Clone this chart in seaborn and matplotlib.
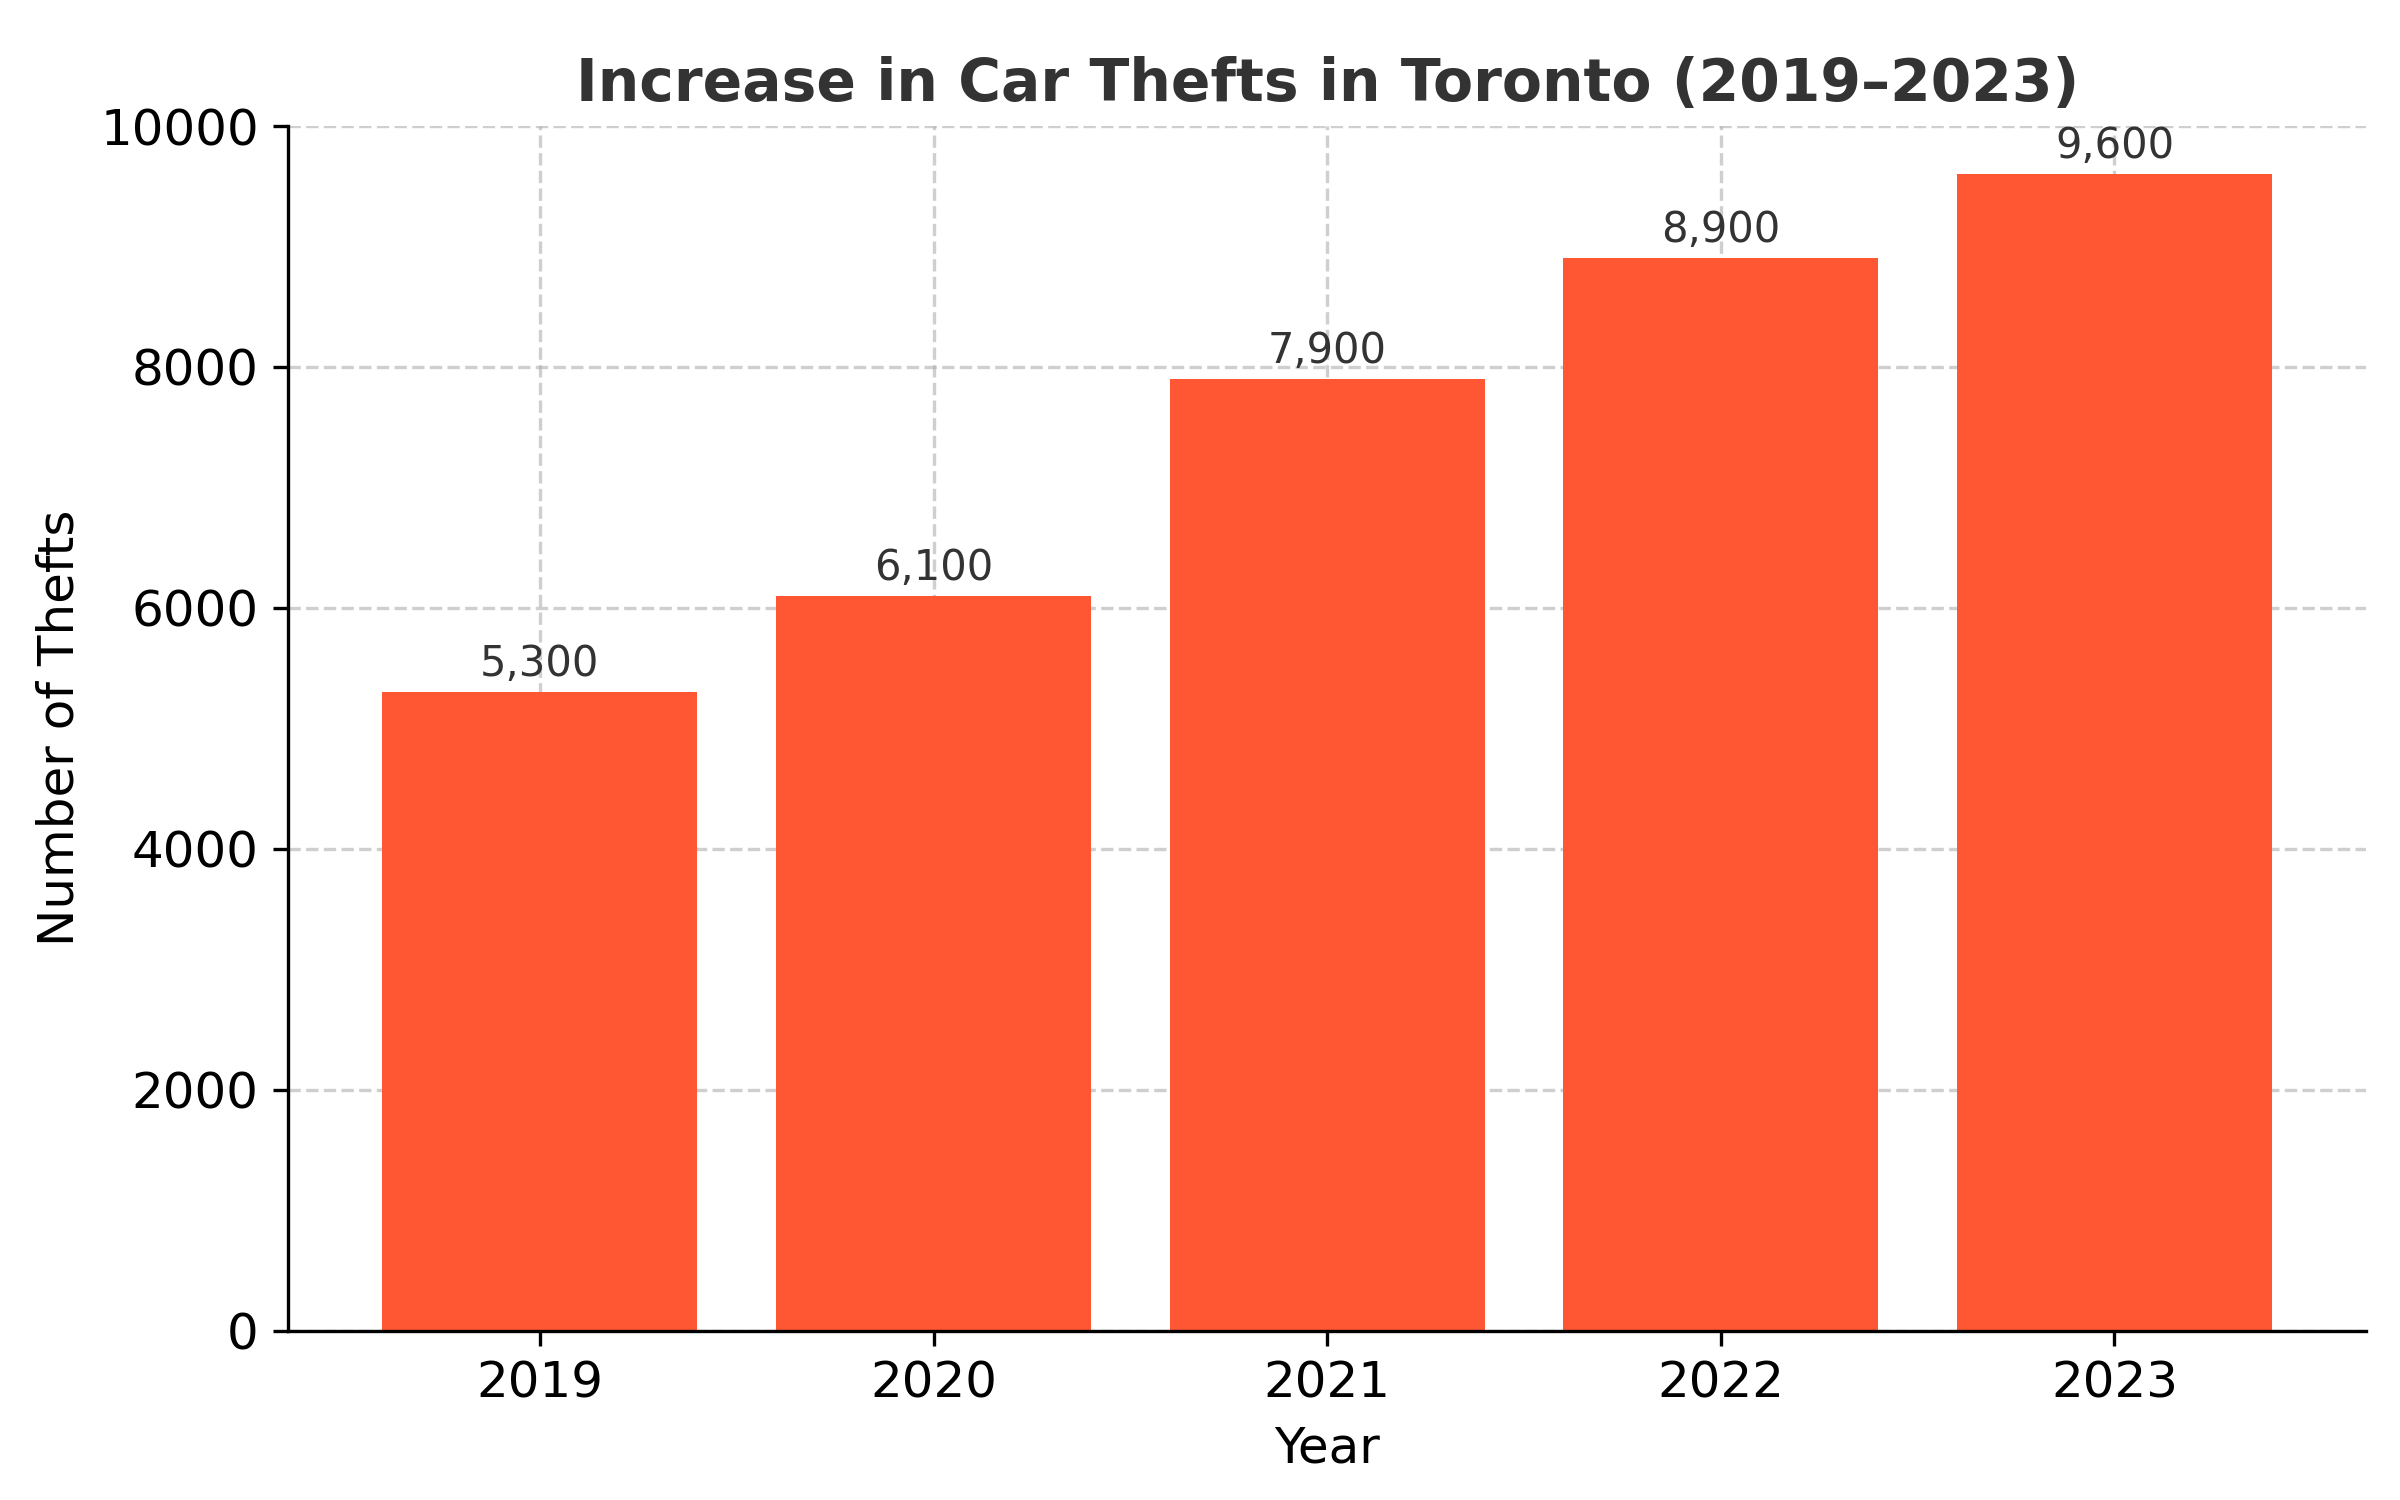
import pandas as pd
import matplotlib.pyplot as plt
import seaborn as sns

years = ["2019", "2020", "2021", "2022", "2023"]
thefts = [5300, 6100, 7900, 8900, 9600]

df = pd.DataFrame({"Year": years, "Thefts": thefts})

fig, ax = plt.subplots(figsize=(8, 5), dpi=300)
fig.subplots_adjust(left=0.12, right=0.986, top=0.916, bottom=0.113)

sns.barplot(data=df, x="Year", y="Thefts", color="#FF5733", saturation=1, width=0.8, ax=ax, zorder=2)

for i, v in enumerate(thefts):
    ax.text(i, v + 60, f"{v:,}", ha="center", va="bottom", fontsize=10, color="#333333")

ax.set_title("Increase in Car Thefts in Toronto (2019–2023)", fontsize=14, fontweight="bold", color="#333333")
ax.set_xlabel("Year", fontsize=12)
ax.set_ylabel("Number of Thefts", fontsize=12)
ax.set_ylim(0, 10000)
ax.set_xlim(-0.64, 4.64)
ax.tick_params(labelsize=12)
ax.grid(True, linestyle="--", alpha=0.6, zorder=0)
ax.set_axisbelow(True)
sns.despine(ax=ax)

plt.savefig("out.png", dpi=300)
